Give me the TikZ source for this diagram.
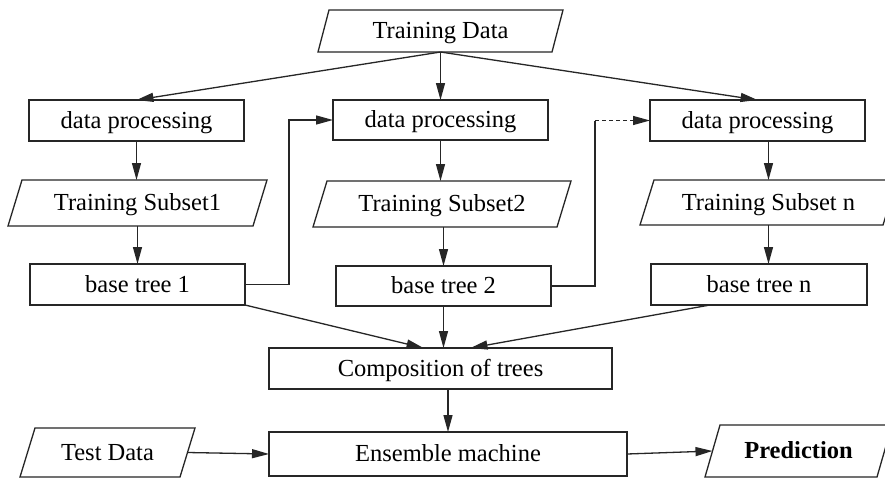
\documentclass[tikz,border=0pt]{standalone}
\usepackage{fontspec}
\setmainfont{Liberation Serif}
\usetikzlibrary{arrows.meta,calc}
\tikzset{
  every node/.style={font=\fontsize{24.5}{29}\selectfont, inner sep=0pt, outer sep=0pt,
    text height=17pt, text depth=2pt},
  procbox/.style={rectangle, draw=black!85, line width=1.3pt},
  iobox/.style={rectangle},
  link/.style={line width=1.3pt, draw=black!85},
  arr/.style={link, -{Triangle[length=17pt,width=9pt]}},
}
% parallelogram outline around an iobox node, slanted by #2
\newcommand\slantframe[2]{%
  \draw[link] ($(#1.north west)+(#2,0)$) -- (#1.north east)
    -- ($(#1.south east)+(-#2,0)$) -- (#1.south west) -- cycle;}
\begin{document}
\begin{tikzpicture}[x=1pt,y=-1pt]
  \useasboundingbox (0,0) rectangle (885,479);
  \fill[white] (0,0) rectangle (885,479);
  \clip (0,0) rectangle (885,479);

  % input data
  \node[iobox, minimum width=245pt, minimum height=42pt] (td) at (440.5,31) {Training Data};
  \slantframe{td}{11}

  % data processing stage
  \node[procbox, minimum width=215pt, minimum height=41pt] (dp1) at (136.5,120.5) {data processing};
  \node[procbox, minimum width=215pt, minimum height=40pt] (dp2) at (440.5,120) {data processing};
  \node[procbox, minimum width=215pt, minimum height=41pt] (dpn) at (757.5,120.5) {data processing};

  % training subsets
  \node[iobox, minimum width=259pt, minimum height=46pt] (ts1) at (137.5,203) {Training Subset1};
  \node[iobox, minimum width=258pt, minimum height=46pt] (ts2) at (442,204) {Training Subset2};
  \node[iobox, minimum width=257pt, minimum height=45pt] (tsn) at (768.5,202.5) {Training Subset n};
  \slantframe{ts1}{14}
  \slantframe{ts2}{14}
  \slantframe{tsn}{14}

  % base trees
  \node[procbox, minimum width=215pt, minimum height=41pt] (bt1) at (137.5,284.5) {base tree 1};
  \node[procbox, minimum width=215pt, minimum height=40pt] (bt2) at (443.5,286) {base tree 2};
  \node[procbox, minimum width=216pt, minimum height=41pt] (btn) at (759,284.5) {base tree n};

  % combination and output
  \node[procbox, minimum width=343pt, minimum height=41pt] (comp) at (440.5,368.5) {Composition of trees};
  \node[procbox, minimum width=358pt, minimum height=44pt] (ens) at (448,454) {Ensemble machine};
  \node[iobox, minimum width=175pt, minimum height=49pt] (test) at (107.5,452.5) {Test Data};
  \node[iobox, minimum width=187pt, minimum height=52pt] (pred) at (798.5,451) {\bfseries Prediction};
  \slantframe{test}{15}
  \slantframe{pred}{15}

  % fan-out from the training data
  \draw[arr] (td.south) -- (dp2.north);
  \draw[arr] (td.south) -- (dp1.north);
  \draw[arr] (td.south) -- (dpn.north);

  % vertical chains
  \draw[arr] (dp1.south) -- (dp1.south |- ts1.north);
  \draw[arr] (bt1.north |- ts1.south) -- (bt1.north);
  \draw[arr] (dp2.south) -- (dp2.south |- ts2.north);
  \draw[arr] (bt2.north |- ts2.south) -- (bt2.north);
  \draw[arr] (tsn.north |- dpn.south) -- (tsn.north);
  \draw[arr] (tsn.south) -- (tsn.south |- btn.north);

  % feedback from one tree to the next processing step
  \draw[arr] (bt1.east) -- ++(44,0) |- (dp2.west);
  \draw[link] (bt2.east) -- ++(44,0) coordinate (k1) -- (k1 |- dpn.west) coordinate (k2);
  \draw[arr, dash pattern=on 4pt off 3pt] (k2) -- (dpn.west);

  % trees into the composition
  \coordinate (c1) at ($(comp.north)+(-17,0)$);
  \coordinate (c3) at ($(comp.north)+(30,0)$);
  \coordinate (bn) at ($(btn.south)+(-49,0)$);
  \draw[arr] (bt1.south east) -- (c1);
  \draw[arr] (bt2.south) -- (bt2.south |- comp.north);
  \draw[arr] (bn) -- (c3);

  % ensemble and prediction
  \draw[arr] (ens.north |- comp.south) -- (ens.north);
  \coordinate (tr) at ($(test.east)+(-7.5,0)$);
  \coordinate (pl) at ($(pred.west)+(7.5,0)$);
  \draw[arr] (tr) -- (ens.west);
  \draw[arr] (ens.east) -- (pl);
\end{tikzpicture}
\end{document}
